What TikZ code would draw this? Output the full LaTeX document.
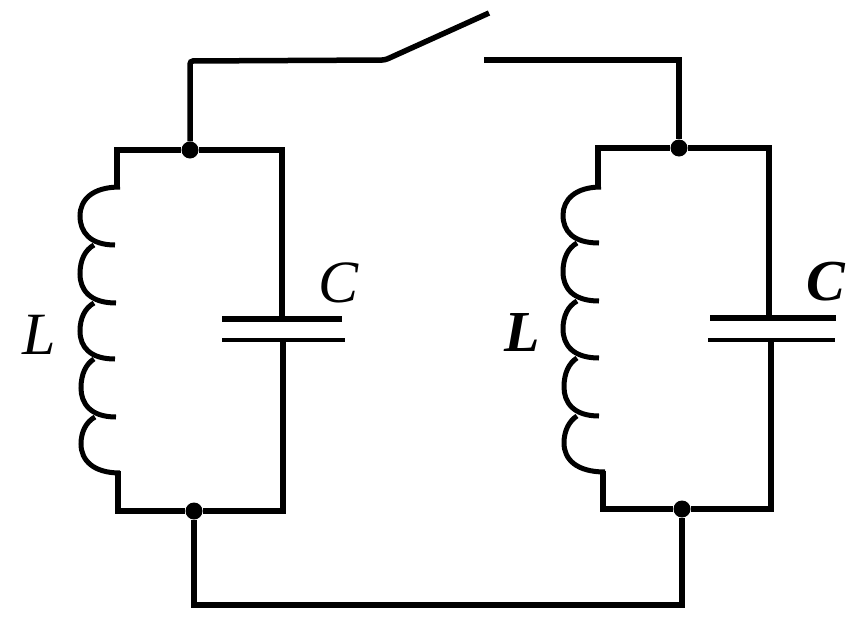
\documentclass[tikz,border=0pt]{standalone}
\usepackage{fontspec}
\setmainfont{Liberation Serif}
\tikzset{
 px/.style={x=1pt,y=-1pt},
 wire/.style={line width=5.5pt,line join=miter},
 coil/.style={line width=5pt,line cap=butt},
 plate/.style={line width=6pt},
 thinplate/.style={line width=4.5pt},
 dotn/.style={circle,fill=black,inner sep=0pt,minimum size=17pt},
 labl/.style={font=\itshape\fontsize{60}{60}\selectfont,inner sep=0pt},
 labr/.style={font=\bfseries\itshape\fontsize{58}{58}\selectfont,inner sep=0pt}
}
\begin{document}
\begin{tikzpicture}[px]
\useasboundingbox (0,0) rectangle (854,624);
\coordinate (sw) at (385,60);
\coordinate (swt) at (489,13);
\coordinate (swr) at (484,60);
\coordinate (tl) at (190,61);
\coordinate (tr) at (679,60);
\coordinate (bl) at (194,605);
\coordinate (br) at (682,605);
\node[dotn] (a1) at (190,150) {};
\node[dotn] (a2) at (679,148) {};
\node[dotn] (b1) at (194,511) {};
\node[dotn] (b2) at (682,509) {};
% top wires
\draw[wire,rounded corners=3pt] (a1) -- (tl) -- (sw) -- (swt);
\draw[wire] (swr) -- (tr) -- (a2);
\draw[wire] (b1) -- (bl) -- (br) -- (b2);
% left tank
\draw[wire] (117,189) -- (117,150) -- (a1) -- (282,150) -- (282,318);
\draw[wire] (283,340) -- (283,511) -- (b1) -- (118,511) -- (118,471);
\draw[coil] (120,187) .. controls (92,187) and (80,200) .. (80,216) .. controls (80,232) and (90,245) .. (115,245);
\draw[coil] (94,245) .. controls (85,250) and (80,260) .. (80,274) .. controls (80,290) and (90,303) .. (116,303);
\draw[coil] (94,303) .. controls (85,308) and (80,318) .. (80,331) .. controls (80,347) and (90,359) .. (115,359);
\draw[coil] (94,359) .. controls (86,364) and (81,374) .. (81,388) .. controls (81,403) and (90,417) .. (116,417);
\draw[coil] (95,417) .. controls (86,422) and (81,432) .. (81,444) .. controls (81,460) and (93,473) .. (120,473);
\draw[plate] (222,319) -- (342,319);
\draw[thinplate] (222,340) -- (345,340);
\node[labl] (c1) at (339,283) {C};
\node[labl] (l1) at (39,335) {L};
% right tank
\draw[wire] (598,189) -- (598,148) -- (a2) -- (769,148) -- (769,318);
\draw[wire] (771,340) -- (771,509) -- (b2) -- (603,509) -- (603,471);
\draw[coil] (601,187) .. controls (575,187) and (563,200) .. (563,215) .. controls (563,231) and (573,243) .. (599,243);
\draw[coil] (577,243) .. controls (568,248) and (563,258) .. (563,272) .. controls (563,288) and (573,301) .. (599,301);
\draw[coil] (577,301) .. controls (568,306) and (563,316) .. (563,329) .. controls (563,345) and (573,358) .. (599,358);
\draw[coil] (577,358) .. controls (569,363) and (564,373) .. (564,387) .. controls (564,402) and (573,416) .. (599,416);
\draw[coil] (577,416) .. controls (569,421) and (564,431) .. (564,443) .. controls (564,459) and (576,472) .. (605,472);
\draw[wire] (710,318) -- (836,318);
\draw[thinplate] (708,340) -- (835,340);
\node[labr] (c2) at (826,282) {C};
\node[labr] (l2) at (522,333) {L};
\end{tikzpicture}
\end{document}
